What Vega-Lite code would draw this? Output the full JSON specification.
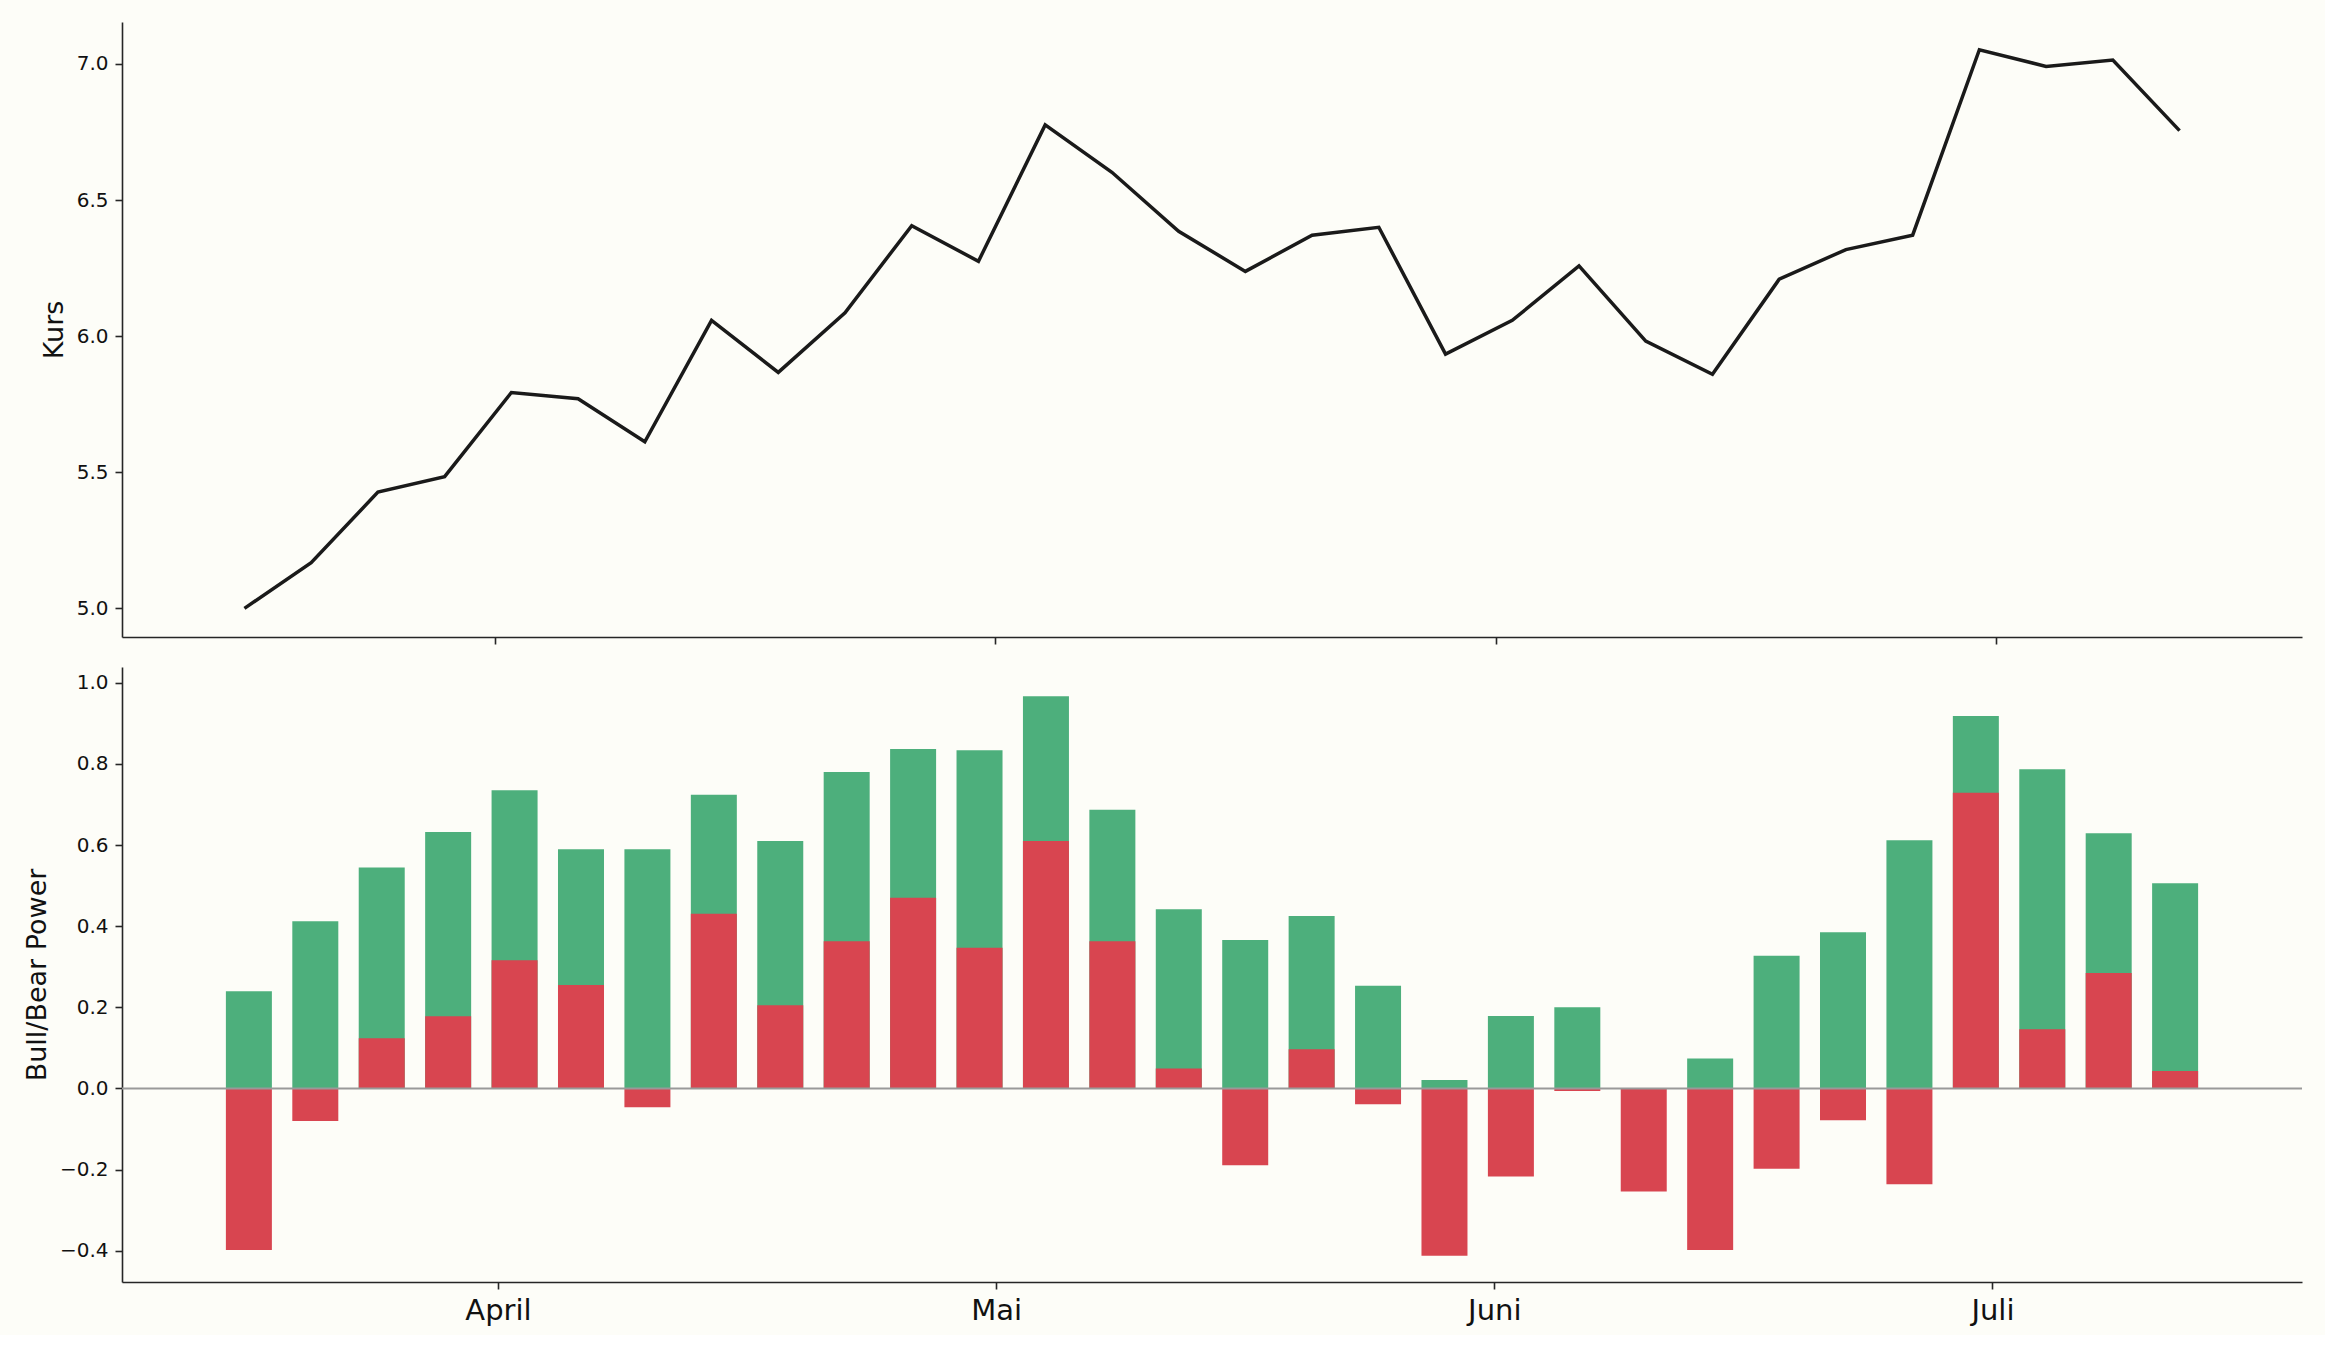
{
  "$schema": "https://vega.github.io/schema/vega-lite/v6.json",
  "background": "#fdfdf8",
  "padding": {"left": 23, "top": 22, "right": 22, "bottom": 10},
  "data": {
    "values": [
      {"tag": 0, "kurs": 5.000, "bull": 0.240, "bear": -0.398},
      {"tag": 4, "kurs": 5.168, "bull": 0.412, "bear": -0.080},
      {"tag": 8, "kurs": 5.427, "bull": 0.545, "bear": 0.124},
      {"tag": 12, "kurs": 5.484, "bull": 0.632, "bear": 0.178},
      {"tag": 16, "kurs": 5.793, "bull": 0.735, "bear": 0.316},
      {"tag": 20, "kurs": 5.770, "bull": 0.590, "bear": 0.255},
      {"tag": 24, "kurs": 5.612, "bull": 0.590, "bear": -0.046},
      {"tag": 28, "kurs": 6.058, "bull": 0.724, "bear": 0.431},
      {"tag": 32, "kurs": 5.867, "bull": 0.610, "bear": 0.205},
      {"tag": 36, "kurs": 6.086, "bull": 0.780, "bear": 0.363},
      {"tag": 40, "kurs": 6.406, "bull": 0.837, "bear": 0.470},
      {"tag": 44, "kurs": 6.275, "bull": 0.834, "bear": 0.347},
      {"tag": 48, "kurs": 6.776, "bull": 0.967, "bear": 0.610},
      {"tag": 52, "kurs": 6.602, "bull": 0.687, "bear": 0.363},
      {"tag": 56, "kurs": 6.385, "bull": 0.442, "bear": 0.049},
      {"tag": 60, "kurs": 6.238, "bull": 0.366, "bear": -0.189},
      {"tag": 64, "kurs": 6.371, "bull": 0.425, "bear": 0.097},
      {"tag": 68, "kurs": 6.400, "bull": 0.253, "bear": -0.039},
      {"tag": 72, "kurs": 5.934, "bull": 0.021, "bear": -0.412},
      {"tag": 76, "kurs": 6.058, "bull": 0.179, "bear": -0.217},
      {"tag": 80, "kurs": 6.258, "bull": 0.200, "bear": -0.006},
      {"tag": 84, "kurs": 5.982, "bull": -0.002, "bear": -0.254},
      {"tag": 88, "kurs": 5.860, "bull": 0.074, "bear": -0.398},
      {"tag": 92, "kurs": 6.209, "bull": 0.327, "bear": -0.198},
      {"tag": 96, "kurs": 6.318, "bull": 0.385, "bear": -0.078},
      {"tag": 100, "kurs": 6.371, "bull": 0.612, "bear": -0.236},
      {"tag": 104, "kurs": 7.052, "bull": 0.918, "bear": 0.729},
      {"tag": 108, "kurs": 6.991, "bull": 0.787, "bear": 0.146},
      {"tag": 112, "kurs": 7.014, "bull": 0.629, "bear": 0.285},
      {"tag": 116, "kurs": 6.755, "bull": 0.506, "bear": 0.043}
    ]
  },
  "spacing": 30,
  "bounds": "flush",
  "vconcat": [
    {
      "width": 2180,
      "height": 615,
      "mark": {"type": "line", "color": "#1a1a1a", "strokeWidth": 3.5},
      "encoding": {
        "x": {
          "field": "tag", "type": "quantitative",
          "scale": {"domain": [-7.34, 123.34], "nice": false, "zero": false},
          "axis": {"values": [15, 45, 75, 105], "labels": false, "title": null}
        },
        "y": {
          "field": "kurs", "type": "quantitative",
          "scale": {"domain": [4.895, 7.154], "nice": false, "zero": false},
          "axis": {"values": [5, 5.5, 6, 6.5, 7], "format": ".1f", "title": "Kurs"}
        }
      }
    },
    {
      "width": 2180,
      "height": 615,
      "layer": [
        {
          "mark": {"type": "bar", "color": "#4daf7c", "width": 46},
          "encoding": {
            "x": {
              "field": "tag", "type": "quantitative",
              "scale": {"domain": [-7.34, 123.34], "nice": false, "zero": false},
              "axis": {"values": [15, 45, 75, 105], "title": null, "labelExpr": "datum.value == 15 ? 'April' : datum.value == 45 ? 'Mai' : datum.value == 75 ? 'Juni' : 'Juli'"}
            },
            "y": {
              "field": "bull", "type": "quantitative",
              "scale": {"domain": [-0.477, 1.039], "nice": false, "zero": false},
              "axis": {"values": [-0.4, -0.2, 0, 0.2, 0.4, 0.6, 0.8, 1.0], "format": ".1f", "title": "Bull/Bear Power"}
            }
          }
        },
        {
          "mark": {"type": "bar", "color": "#d84550", "width": 46},
          "encoding": {
            "x": {
              "field": "tag", "type": "quantitative",
              "scale": {"domain": [-7.34, 123.34], "nice": false, "zero": false},
              "axis": {"values": [15, 45, 75, 105], "title": null, "labelExpr": "datum.value == 15 ? 'April' : datum.value == 45 ? 'Mai' : datum.value == 75 ? 'Juni' : 'Juli'"}
            },
            "y": {
              "field": "bear", "type": "quantitative",
              "scale": {"domain": [-0.477, 1.039], "nice": false, "zero": false},
              "axis": {"values": [-0.4, -0.2, 0, 0.2, 0.4, 0.6, 0.8, 1.0], "format": ".1f", "title": "Bull/Bear Power"}
            }
          }
        },
        {
          "data": {"values": [{"nulllinie": 0}]},
          "mark": {"type": "rule", "color": "#999999", "strokeWidth": 2},
          "encoding": {
            "y": {"field": "nulllinie", "type": "quantitative"}
          }
        }
      ]
    }
  ],
  "config": {
    "view": {"stroke": null},
    "font": "DejaVu Sans",
    "axis": {
      "grid": false,
      "domainColor": "#262626",
      "domainWidth": 1.6,
      "tickColor": "#262626",
      "tickWidth": 1.6,
      "tickSize": 7,
      "labelFont": "DejaVu Sans",
      "labelFontSize": 20,
      "labelColor": "#111111",
      "labelPadding": 7,
      "labelFlush": false,
      "labelOverlap": false,
      "titleFont": "DejaVu Sans",
      "titleFontSize": 27,
      "titleFontWeight": "normal",
      "titleColor": "#111111",
      "titlePadding": 8
    },
    "axisX": {"labelFontSize": 29, "labelAngle": 0}
  }
}
